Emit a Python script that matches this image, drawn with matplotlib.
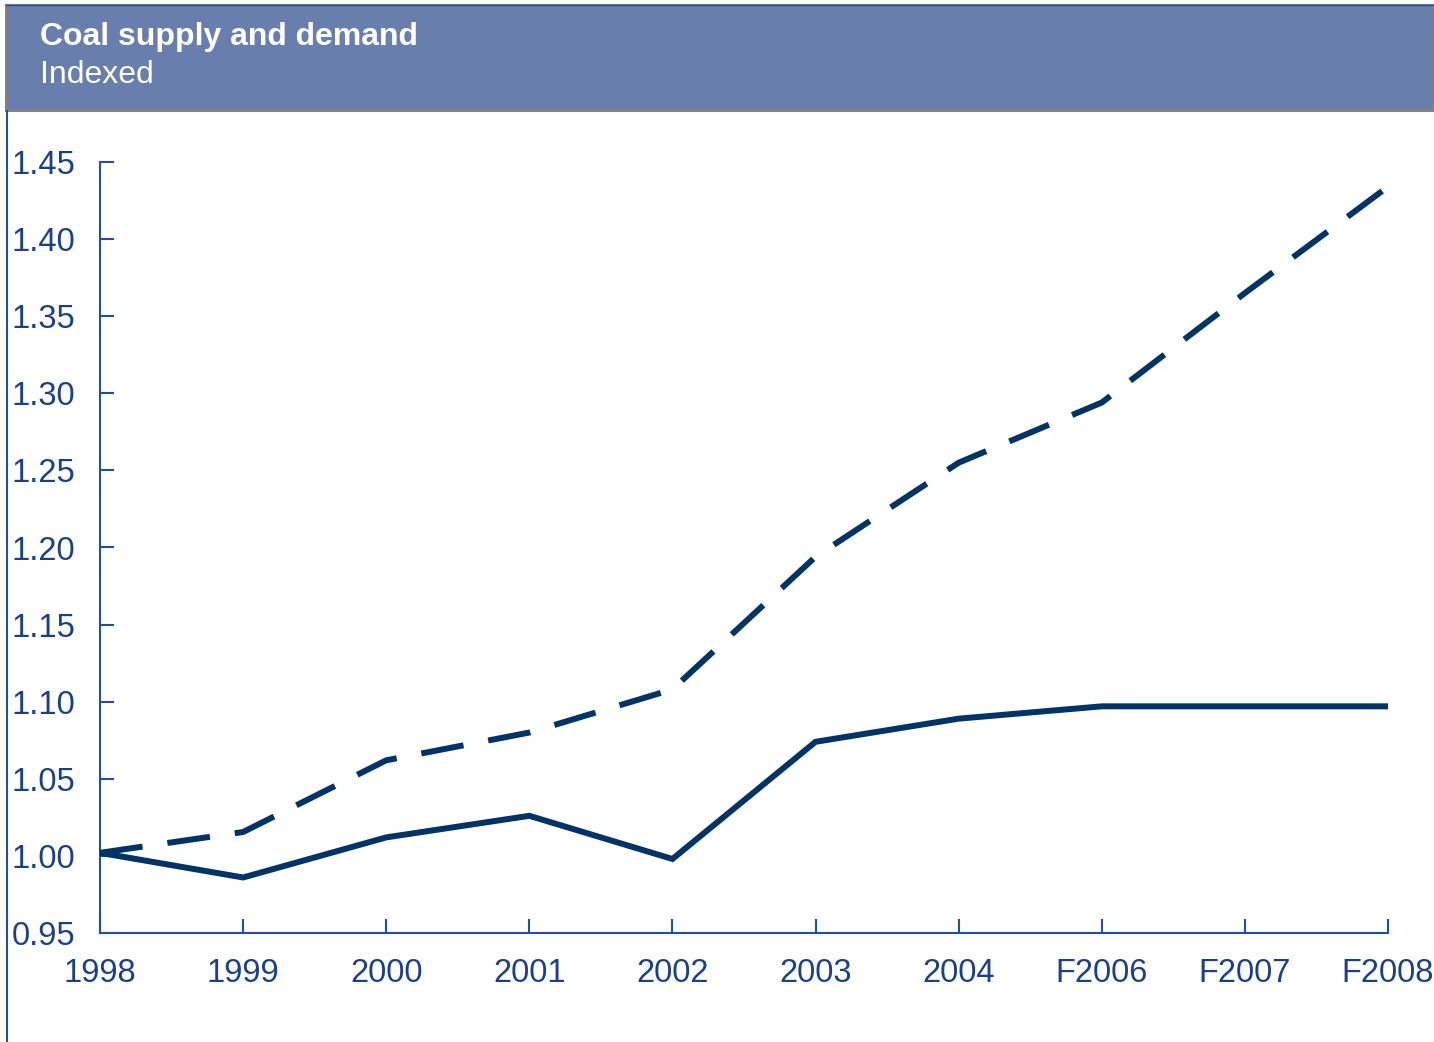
import matplotlib
matplotlib.use("Agg")
import matplotlib.pyplot as plt
from matplotlib.patches import Rectangle
from matplotlib.lines import Line2D

plt.rcParams['font.family'] = ['Liberation Sans', 'DejaVu Sans']

years = ["1998", "1999", "2000", "2001", "2002", "2003", "2004", "F2006", "F2007", "F2008"]
supply = [1.002, 0.986, 1.012, 1.026, 0.998, 1.074, 1.089, 1.097, 1.097, 1.097]
demand = [1.002, 1.0155, 1.062, 1.080, 1.108, 1.194, 1.255, 1.294, 1.365, 1.434]
y_ticks = [0.95, 1.00, 1.05, 1.10, 1.15, 1.20, 1.25, 1.30, 1.35, 1.40, 1.45]

W, H = 1434, 1042
fig = plt.figure(figsize=(W / 100, H / 100), dpi=100)

line_col = "#003366"
axis_col = "#1F4FA8"
text_col = "#1A3F8F"

# Header band
band = Rectangle((6 / W, 1 - 111 / H), 1 - 6 / W, (111 - 5) / H,
                 transform=fig.transFigure, facecolor="#687EAD",
                 edgecolor="#8B8270", linewidth=1.5)
fig.patches.append(band)
fig.add_artist(Line2D([6 / W, 1], [1 - 4.5 / H, 1 - 4.5 / H],
                      transform=fig.transFigure, color=axis_col, lw=1.0))
fig.text(40 / W, 1 - 45 / H, "Coal supply and demand", color="white",
         fontsize=23, fontweight="bold", va="baseline", ha="left")
fig.text(40 / W, 1 - 83 / H, "Indexed", color="white",
         fontsize=23, va="baseline", ha="left")

# Left border rule
fig.add_artist(Line2D([7 / W, 7 / W], [0, 1 - 111 / H],
                      transform=fig.transFigure, color=axis_col, lw=1.5))

# Plot area
x0, x1 = 100, 1388
ytop, ybot = 162, 933
ax = fig.add_axes([x0 / W, 1 - ybot / H, (x1 - x0) / W, (ybot - ytop) / H])
ax.set_xlim(0, len(years) - 1)
ax.set_ylim(0.95, 1.45)

xs = list(range(len(years)))
ax.plot(xs, supply, color=line_col, lw=4.3, solid_joinstyle="miter",
        solid_capstyle="butt", clip_on=False, zorder=3)
ax.plot(xs, demand, color=line_col, lw=4.3, dashes=(7.2, 4.2),
        dash_capstyle="butt", clip_on=False, zorder=3)

for s in ["top", "right"]:
    ax.spines[s].set_visible(False)
for s in ["left", "bottom"]:
    ax.spines[s].set_color(axis_col)
    ax.spines[s].set_linewidth(1.5)

ax.set_xticks(xs)
ax.set_xticklabels(years)
ax.set_yticks(y_ticks)
ax.set_yticklabels([f"{v:.2f}" for v in y_ticks])
ax.tick_params(axis="both", direction="in", length=10, width=1.5,
               color=axis_col, labelcolor=text_col, labelsize=23.5)
ax.tick_params(axis="x", pad=18)
ax.yaxis.set_tick_params(pad=0)
for lbl in ax.get_yticklabels():
    lbl.set_horizontalalignment("left")
    lbl.set_transform(ax.get_yaxis_transform())
    lbl.set_position((-88 / (x1 - x0), lbl.get_position()[1]))

fig.savefig("out.png", dpi=100)
